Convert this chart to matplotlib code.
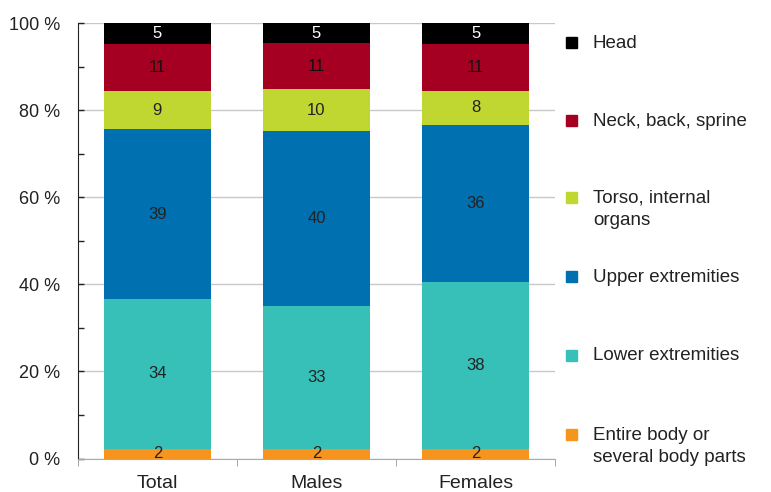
import matplotlib
matplotlib.use("Agg")
import matplotlib.pyplot as plt
from matplotlib.patches import Rectangle
import numpy as np

plt.rcParams['font.family'] = ['Liberation Sans', 'DejaVu Sans']

groups = ['Total', 'Males', 'Females']
parts = ['Entire body or\nseveral body parts', 'Lower extremities', 'Upper extremities',
         'Torso, internal\norgans', 'Neck, back, sprine', 'Head']
colors = ['#F7941D', '#36C0B8', '#0070B0', '#BFD730', '#A50021', '#000000']
text_colors = ['#222222', '#222222', '#222222', '#222222', '#111111', '#FFFFFF']

entire = [2.3, 2.3, 2.3]
lower = [34.3, 32.7, 38.3]
upper = [39.0, 40.2, 36.1]
torso = [8.8, 9.6, 7.7]
neck = [10.7, 10.6, 10.7]
head = [4.9, 4.6, 4.9]
series = [entire, lower, upper, torso, neck, head]

fig = plt.figure(figsize=(7.71, 4.92), dpi=100)
ax = fig.add_axes([0.101, 0.068, 0.619, 0.885])

x = np.arange(len(groups))
bottom = np.zeros(len(groups))
for vals, c, tc in zip(series, colors, text_colors):
    vals = np.array(vals)
    ax.bar(x, vals, 0.67, bottom=bottom, color=c, zorder=2)
    for xi, b, v in zip(x, bottom, vals):
        ax.text(xi, b + v / 2, f"{v:.0f}", ha='center', va='center',
                fontsize=12, color=tc, zorder=3)
    bottom += vals

ax.set_xlim(-0.5, 2.5)
ax.set_ylim(0, 100)
ax.set_yticks(range(0, 101, 20))
ax.set_yticklabels([f"{v} %" for v in range(0, 101, 20)], fontsize=13, color='#222222')
ax.set_yticks(range(0, 101, 10), minor=True)
ax.tick_params(axis='y', which='both', direction='in', length=4, width=1, color='#222222', pad=13)
ax.yaxis.grid(True, color='#C8C8C8', linewidth=1, zorder=0)
ax.set_xticks(x)
ax.set_xticklabels(groups, fontsize=14, color='#222222')
ax.tick_params(axis='x', which='major', length=0, pad=12)
ax.set_xticks([-0.5, 0.5, 1.5, 2.5], minor=True)
ax.tick_params(axis='x', which='minor', length=5, color='#999999', direction='out')
for s in ['top', 'right']:
    ax.spines[s].set_visible(False)
ax.spines['left'].set_color('#222222')
ax.spines['bottom'].set_color('#AAAAAA')
ax.set_axisbelow(True)

# legend drawn by hand, top entry first
leg_y = [42, 120, 197, 276, 355, 434]
for lbl, c, yp in zip(parts[::-1], colors[::-1], leg_y):
    yf = 1 - yp / 492
    fig.patches.append(Rectangle((566 / 771, yf - 5.5 / 492), 11 / 771, 11 / 492,
                                 color=c, transform=fig.transFigure))
    fig.text(593 / 771, yf + 7.5 / 492, lbl, ha='left', va='top', fontsize=13.5,
             color='#222222', linespacing=1.45)

fig.savefig('out.png', dpi=100)
